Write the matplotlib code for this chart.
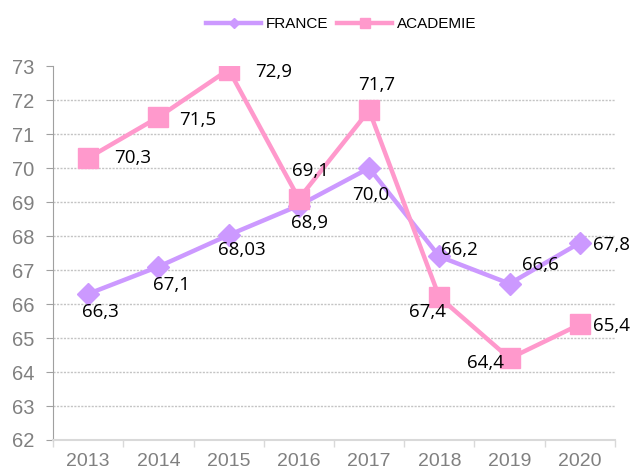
import matplotlib.pyplot as plt
import numpy as np

# données
annees = ['2013', '2014', '2015', '2016', '2017', '2018', '2019', '2020']
france = [66.3, 67.1, 68.03, 68.9, 70.0, 67.4, 66.6, 67.8]
academie = [70.3, 71.5, 72.9, 69.1, 71.7, 66.2, 64.4, 65.4]
france_labels = ['66,3', '67,1', '68,03', '68,9', '70,0', '66,2', '66,6', '67,8']
academie_labels = ['70,3', '71,5', '72,9', '69,1', '71,7', '67,4', '64,4', '65,4']

# position des étiquettes (décalage en pixels, alignement)
france_off = [(12, -18, 'center'), (13, -18, 'center'), (13, -15, 'center'), (11, -17, 'center'),
              (2, -27, 'center'), (2, 6, 'left'), (31, 19, 'center'), (13, -2, 'left')]
academie_off = [(26, 0, 'left'), (21, -3, 'left'), (26, -2, 'left'), (12, 28, 'center'),
                (8, 25, 'center'), (-12, -15, 'center'), (-6, -5, 'right'), (13, -2, 'left')]

c_france = '#cc99ff'
c_acad = '#ff99cc'

fig = plt.figure(figsize=(6.32, 4.75), dpi=100)
ax = fig.add_axes([0.084, 0.0737, 0.889, 0.787])
x = np.arange(len(annees))

ax.plot(x, france, color=c_france, lw=3.2, marker='D', ms=11, label='FRANCE', zorder=3)
ax.plot(x, academie, color=c_acad, lw=3.2, marker='s', ms=15, label='ACADEMIE', zorder=4)

px = 72 / 100  # pixels -> points
for i in range(len(x)):
    dx, dy, ha = france_off[i]
    ax.annotate(france_labels[i], (x[i], france[i]), xytext=(dx * px, dy * px),
                textcoords='offset points', ha=ha, va='center', fontsize=13.5,
                family='Open Sans', color='black', zorder=6)
    dx, dy, ha = academie_off[i]
    ax.annotate(academie_labels[i], (x[i], academie[i]), xytext=(dx * px, dy * px),
                textcoords='offset points', ha=ha, va='center', fontsize=13.5,
                family='Open Sans', color='black', zorder=6)

ax.set_xlim(-0.5, 7.5)
ax.set_ylim(62, 73)
ax.set_yticks(range(62, 74))
ax.set_xticks(x)
ax.set_xticklabels(annees)
ax.set_xticks(np.arange(-0.5, 8, 1), minor=True)
ax.tick_params(axis='x', which='major', length=0, pad=9.5, labelsize=14, labelcolor='#808080')
ax.tick_params(axis='x', which='minor', length=5, color='#d9d9d9', width=1)
ax.tick_params(axis='y', length=5, color='#a0a0a0', labelsize=14.5, labelcolor='#808080', pad=8.5)
for lab in ax.get_xticklabels() + ax.get_yticklabels():
    lab.set_family('Liberation Sans')

for y in range(63, 73):
    ax.axhline(y, color='#c4c4c4', lw=1, ls=(0, (1.5, 1)), zorder=1)

ax.spines['top'].set_visible(False)
ax.spines['right'].set_visible(False)
ax.spines['left'].set_color('#a0a0a0')
ax.spines['bottom'].set_color('#d9d9d9')
ax.spines['bottom'].set_linewidth(1.5)

leg = fig.legend(loc='upper center', bbox_to_anchor=(0.54, 0.993), ncol=2, frameon=False,
                 prop={'family': 'Liberation Sans', 'size': 11}, handlelength=3.6,
                 columnspacing=0.6, handletextpad=0.3, markerscale=0.5)

fig.savefig('out.png', dpi=100)
